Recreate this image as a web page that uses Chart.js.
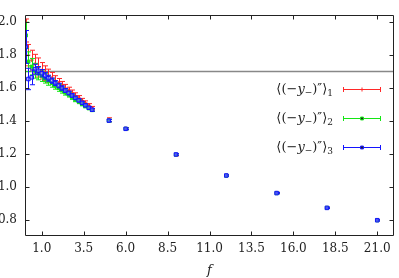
<!DOCTYPE html>
<html>
<head>
<meta charset="utf-8">
<script src="https://cdn.jsdelivr.net/npm/chart.js@4/dist/chart.umd.min.js"></script>
<style>
html, body { margin: 0; padding: 0; background: #fff; }
</style>
</head>
<body>
<canvas id="c" width="399" height="278"></canvas>
<script>
// values
var fVals = [0.05, 0.2, 0.4, 0.6, 0.8, 1.0, 1.2, 1.4, 1.6, 1.8, 2.0, 2.2, 2.4, 2.6, 2.8, 3.0, 3.2, 3.4, 3.6, 3.8, 4.0, 5.0, 6.0, 9.0, 12.0, 15.0, 18.0, 21.0];

var y1 = [1.95, 1.80, 1.77, 1.745, 1.725, 1.705, 1.69, 1.675, 1.66, 1.645, 1.63, 1.615, 1.60, 1.585, 1.57, 1.555, 1.54, 1.525, 1.51, 1.495, 1.478, 1.407, 1.353, 1.193, 1.068, 0.962, 0.871, 0.797];
var e1 = [0.07, 0.065, 0.06, 0.06, 0.058, 0.05, 0.045, 0.04, 0.035, 0.03, 0.028, 0.025, 0.022, 0.02, 0.018, 0.016, 0.014, 0.012, 0.012, 0.01, 0.01, 0.012, 0.006, 0.006, 0.004, 0.004, 0.004, 0.004];

var y2 = [1.92, 1.76, 1.73, 1.705, 1.69, 1.675, 1.66, 1.645, 1.63, 1.615, 1.60, 1.587, 1.573, 1.56, 1.545, 1.53, 1.517, 1.503, 1.49, 1.478, 1.466, 1.402, 1.352, 1.195, 1.067, 0.961, 0.871, 0.796];
var e2 = [0.08, 0.06, 0.05, 0.045, 0.04, 0.035, 0.03, 0.028, 0.025, 0.022, 0.02, 0.018, 0.016, 0.015, 0.014, 0.013, 0.012, 0.011, 0.01, 0.01, 0.009, 0.008, 0.006, 0.005, 0.004, 0.004, 0.004, 0.004];

var y3 = [1.85, 1.655, 1.665, 1.715, 1.705, 1.69, 1.675, 1.66, 1.645, 1.63, 1.615, 1.60, 1.585, 1.57, 1.555, 1.54, 1.525, 1.51, 1.495, 1.48, 1.468, 1.402, 1.352, 1.196, 1.068, 0.961, 0.871, 0.796];
var e3 = [0.1, 0.065, 0.045, 0.03, 0.025, 0.022, 0.02, 0.018, 0.016, 0.015, 0.014, 0.013, 0.012, 0.011, 0.01, 0.01, 0.009, 0.009, 0.008, 0.008, 0.008, 0.007, 0.005, 0.005, 0.004, 0.004, 0.004, 0.004];

var xTicks = [1.0, 3.5, 6.0, 8.5, 11.0, 13.5, 16.0, 18.5, 21.0];
var yTicks = [0.8, 1.0, 1.2, 1.4, 1.6, 1.8, 2.0];
var refLevel = 1.7;
var seriesIdx = ["1", "2", "3"];

var serif = "'DejaVu Serif', 'Liberation Serif', serif";

function pts(ys) {
	return fVals.map(function(f, i) { return {x: f, y: ys[i]}; });
}

var red = "rgb(255,40,40)";
var green = "rgb(20,230,20)";
var blue = "rgb(20,20,255)";

// draw vertical error bars of one dataset just before its markers
var errorBars = {
	id: "errorBars",
	beforeDatasetDraw: function(chart, args) {
		var ds = chart.data.datasets[args.index];
		if (!ds.err) return;
		var ctx = chart.ctx;
		var xs = chart.scales.x, ys = chart.scales.y;
		var area = chart.chartArea;
		ctx.save();
		ctx.beginPath();
		ctx.rect(area.left, area.top, area.right - area.left, area.bottom - area.top);
		ctx.clip();
		ctx.strokeStyle = ds.borderColor;
		ctx.lineWidth = 1;
		ds.data.forEach(function(p, i) {
			var px = Math.round(xs.getPixelForValue(p.x)) + 0.5;
			var top = ys.getPixelForValue(p.y + ds.err[i]);
			var bot = ys.getPixelForValue(p.y - ds.err[i]);
			ctx.beginPath();
			ctx.moveTo(px, top); ctx.lineTo(px, bot);
			ctx.moveTo(px - 2.5, top); ctx.lineTo(px + 2.5, top);
			ctx.moveTo(px - 2.5, bot); ctx.lineTo(px + 2.5, bot);
			ctx.stroke();
		});
		ctx.restore();
	}
};

// frame with inward ticks on all four sides, plus the key
var frame = {
	id: "frame",
	afterDatasetsDraw: function(chart) {
		var ctx = chart.ctx;
		var a = chart.chartArea;
		var xs = chart.scales.x, ys = chart.scales.y;
		ctx.save();
		ctx.strokeStyle = "#222";
		ctx.lineWidth = 1;
		var L = Math.round(a.left) + 0.5, R = Math.round(a.right) - 0.5;
		var T = Math.round(a.top) + 0.5, B = Math.round(a.bottom) - 0.5;
		ctx.beginPath();
		ctx.rect(L, T, R - L, B - T);
		xTicks.forEach(function(v) {
			var px = Math.round(xs.getPixelForValue(v)) + 0.5;
			ctx.moveTo(px, B); ctx.lineTo(px, B - 4);
			ctx.moveTo(px, T); ctx.lineTo(px, T + 4);
		});
		yTicks.forEach(function(v) {
			var py = Math.round(ys.getPixelForValue(v)) + 0.5;
			ctx.moveTo(L, py); ctx.lineTo(L + 4, py);
			ctx.moveTo(R, py); ctx.lineTo(R - 4, py);
		});
		ctx.stroke();

		// key
		var cols = [red, green, blue];
		var styles = ["cross", "rect", "rect"];
		seriesIdx.forEach(function(s, k) {
			var cy = 89.5 + k * 29;
			var parts = [
				{t: "\u27E8(\u2212", f: "13px " + serif, dy: 0},
				{t: "y", f: "italic 13px " + serif, dy: 0},
				{t: "\u2212", f: "9px " + serif, dy: 3},
				{t: ")\u2033\u27E9", f: "13px " + serif, dy: 0},
				{t: s, f: "9px " + serif, dy: 4}
			];
			var w = 0;
			parts.forEach(function(p) { ctx.font = p.f; p.w = ctx.measureText(p.t).width; w += p.w; });
			var x = 333 - w;
			ctx.fillStyle = "#222";
			ctx.textBaseline = "middle";
			ctx.textAlign = "left";
			parts.forEach(function(p) { ctx.font = p.f; ctx.fillText(p.t, x, cy + p.dy); x += p.w; });

			ctx.strokeStyle = cols[k];
			ctx.beginPath();
			ctx.moveTo(343, cy); ctx.lineTo(381, cy);
			ctx.moveTo(343.5, cy - 2.5); ctx.lineTo(343.5, cy + 2.5);
			ctx.moveTo(380.5, cy - 2.5); ctx.lineTo(380.5, cy + 2.5);
			ctx.stroke();
			Chart.helpers.drawPoint(ctx, {
				pointStyle: styles[k], radius: 2, borderWidth: 1,
				borderColor: cols[k], backgroundColor: k === 1 ? cols[k] : "rgba(120,120,255,0.5)"
			}, 362, cy);
		});
		ctx.restore();
	}
};

new Chart(document.getElementById("c"), {
	type: "scatter",
	data: {
		datasets: [
			{
				label: "3", data: pts(y3), err: e3,
				borderColor: blue, backgroundColor: "rgba(120,120,255,0.55)",
				pointStyle: "rect", pointRadius: 2.5, borderWidth: 1
			},
			{
				label: "2", data: pts(y2), err: e2,
				borderColor: green, backgroundColor: green,
				pointStyle: "rect", pointRadius: 2.2, borderWidth: 1
			},
			{
				label: "1", data: pts(y1), err: e1,
				borderColor: red, backgroundColor: red,
				pointStyle: "cross", pointRadius: 2, borderWidth: 1
			},
			{
				type: "line", label: "ref",
				data: [{x: 0, y: refLevel}, {x: 22, y: refLevel}],
				borderColor: "#888", borderWidth: 1.5, pointRadius: 0, showLine: true
			}
		]
	},
	options: {
		responsive: false,
		animation: false,
		layout: {padding: {top: 1, right: 1, left: 0, bottom: 0}},
		plugins: {legend: {display: false}, tooltip: {enabled: false}},
		scales: {
			x: {
				type: "linear", min: 0, max: 22,
				grid: {display: false, drawTicks: false},
				border: {display: false},
				afterBuildTicks: function(s) { s.ticks = xTicks.map(function(v) { return {value: v}; }); },
				afterFit: function(s) { s.height = 42; },
				ticks: {
					padding: 6, color: "#222", maxRotation: 0, autoSkip: false,
					font: {family: serif, size: 12},
					callback: function(v) { return Number(v).toFixed(1); }
				},
				title: {
					display: true, text: "f", color: "#222",
					padding: {top: 0, bottom: 0},
					font: {family: serif, size: 13, style: "italic"}
				}
			},
			y: {
				type: "linear", min: 0.7, max: 2.043,
				grid: {display: false, drawTicks: false},
				border: {display: false},
				afterBuildTicks: function(s) { s.ticks = yTicks.map(function(v) { return {value: v}; }); },
				afterFit: function(s) { s.width = 25; },
				ticks: {
					padding: 8, color: "#222", autoSkip: false,
					font: {family: serif, size: 12},
					callback: function(v) { return Number(v).toFixed(1); }
				}
			}
		}
	},
	plugins: [errorBars, frame]
});
</script>
</body>
</html>
